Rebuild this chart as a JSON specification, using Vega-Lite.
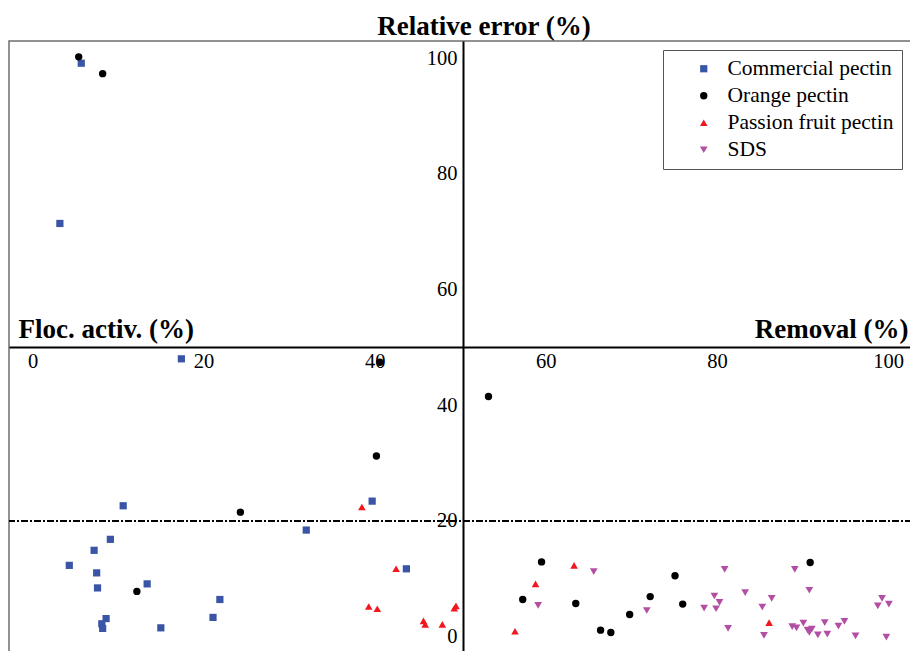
{
  "$schema": "https://vega.github.io/schema/vega-lite/v6.json",
  "width": 903,
  "height": 612,
  "autosize": {"type": "none"},
  "padding": {"left": 9, "top": 41, "right": -2, "bottom": -2},
  "background": "white",
  "config": {"view": {"stroke": "#6e6e6e", "strokeWidth": 1.5}, "font": "Liberation Serif"},
  "title": {"text": "Relative error (%)", "font": "Liberation Serif", "fontSize": 27, "fontWeight": "bold", "color": "black", "anchor": "middle", "dx": 23.5, "dy": 25, "offset": 4, "baseline": "alphabetic"},
  "data": {"values": [
    {"type": "Commercial pectin", "removal": 5.7, "value": 99.1},
    {"type": "Commercial pectin", "removal": 3.2, "value": 71.4},
    {"type": "Commercial pectin", "removal": 17.4, "value": 48.0},
    {"type": "Commercial pectin", "removal": 10.6, "value": 22.6},
    {"type": "Commercial pectin", "removal": 32.0, "value": 18.4},
    {"type": "Commercial pectin", "removal": 9.1, "value": 16.8},
    {"type": "Commercial pectin", "removal": 7.2, "value": 14.9},
    {"type": "Commercial pectin", "removal": 4.3, "value": 12.3},
    {"type": "Commercial pectin", "removal": 7.5, "value": 11.0},
    {"type": "Commercial pectin", "removal": 7.6, "value": 8.4},
    {"type": "Commercial pectin", "removal": 13.4, "value": 9.1},
    {"type": "Commercial pectin", "removal": 21.9, "value": 6.4},
    {"type": "Commercial pectin", "removal": 21.1, "value": 3.3},
    {"type": "Commercial pectin", "removal": 8.6, "value": 3.1},
    {"type": "Commercial pectin", "removal": 8.1, "value": 2.2},
    {"type": "Commercial pectin", "removal": 8.2, "value": 1.4},
    {"type": "Commercial pectin", "removal": 15.0, "value": 1.5},
    {"type": "Commercial pectin", "removal": 39.7, "value": 23.4},
    {"type": "Commercial pectin", "removal": 43.7, "value": 11.7},
    {"type": "Orange pectin", "removal": 5.4, "value": 100.2},
    {"type": "Orange pectin", "removal": 8.2, "value": 97.3},
    {"type": "Orange pectin", "removal": 40.6, "value": 47.4},
    {"type": "Orange pectin", "removal": 53.3, "value": 41.5},
    {"type": "Orange pectin", "removal": 40.2, "value": 31.2},
    {"type": "Orange pectin", "removal": 24.3, "value": 21.5},
    {"type": "Orange pectin", "removal": 12.2, "value": 7.8},
    {"type": "Orange pectin", "removal": 59.5, "value": 12.9},
    {"type": "Orange pectin", "removal": 57.3, "value": 6.4},
    {"type": "Orange pectin", "removal": 63.5, "value": 5.7},
    {"type": "Orange pectin", "removal": 66.4, "value": 1.1},
    {"type": "Orange pectin", "removal": 67.6, "value": 0.7},
    {"type": "Orange pectin", "removal": 69.8, "value": 3.8},
    {"type": "Orange pectin", "removal": 72.2, "value": 6.9},
    {"type": "Orange pectin", "removal": 75.1, "value": 10.5},
    {"type": "Orange pectin", "removal": 76.0, "value": 5.6},
    {"type": "Orange pectin", "removal": 90.9, "value": 12.8},
    {"type": "Passion fruit pectin", "removal": 38.5, "value": 22.4},
    {"type": "Passion fruit pectin", "removal": 42.5, "value": 11.7},
    {"type": "Passion fruit pectin", "removal": 39.3, "value": 5.2},
    {"type": "Passion fruit pectin", "removal": 40.3, "value": 4.8},
    {"type": "Passion fruit pectin", "removal": 49.5, "value": 5.3},
    {"type": "Passion fruit pectin", "removal": 49.3, "value": 4.9},
    {"type": "Passion fruit pectin", "removal": 45.7, "value": 2.7},
    {"type": "Passion fruit pectin", "removal": 45.9, "value": 2.1},
    {"type": "Passion fruit pectin", "removal": 47.9, "value": 2.1},
    {"type": "Passion fruit pectin", "removal": 56.4, "value": 0.9},
    {"type": "Passion fruit pectin", "removal": 58.8, "value": 9.1},
    {"type": "Passion fruit pectin", "removal": 63.3, "value": 12.3},
    {"type": "Passion fruit pectin", "removal": 86.1, "value": 2.4},
    {"type": "SDS", "removal": 65.6, "value": 11.2},
    {"type": "SDS", "removal": 59.1, "value": 5.4},
    {"type": "SDS", "removal": 71.8, "value": 4.5},
    {"type": "SDS", "removal": 80.9, "value": 11.6},
    {"type": "SDS", "removal": 89.1, "value": 11.6},
    {"type": "SDS", "removal": 83.3, "value": 7.6},
    {"type": "SDS", "removal": 90.8, "value": 8.0},
    {"type": "SDS", "removal": 79.7, "value": 7.0},
    {"type": "SDS", "removal": 80.3, "value": 5.9},
    {"type": "SDS", "removal": 78.5, "value": 4.9},
    {"type": "SDS", "removal": 79.9, "value": 4.8},
    {"type": "SDS", "removal": 86.4, "value": 6.6},
    {"type": "SDS", "removal": 85.3, "value": 5.1},
    {"type": "SDS", "removal": 81.3, "value": 1.4},
    {"type": "SDS", "removal": 85.5, "value": 0.2},
    {"type": "SDS", "removal": 88.8, "value": 1.7},
    {"type": "SDS", "removal": 89.3, "value": 1.5},
    {"type": "SDS", "removal": 90.1, "value": 2.3},
    {"type": "SDS", "removal": 90.6, "value": 1.1},
    {"type": "SDS", "removal": 91.1, "value": 1.3},
    {"type": "SDS", "removal": 90.8, "value": 0.7},
    {"type": "SDS", "removal": 91.8, "value": 0.3},
    {"type": "SDS", "removal": 92.6, "value": 2.4},
    {"type": "SDS", "removal": 92.9, "value": 0.4},
    {"type": "SDS", "removal": 94.2, "value": 1.8},
    {"type": "SDS", "removal": 94.9, "value": 2.6},
    {"type": "SDS", "removal": 96.2, "value": 0.1},
    {"type": "SDS", "removal": 99.3, "value": 6.6},
    {"type": "SDS", "removal": 98.8, "value": 5.3},
    {"type": "SDS", "removal": 100.1, "value": 5.6},
    {"type": "SDS", "removal": 99.8, "value": -0.1}
  ]},
  "layer": [
    {
      "mark": {"type": "rule", "color": "black", "strokeWidth": 1.6, "strokeDash": [7, 2, 2, 2]},
      "encoding": {"y": {"datum": 20, "type": "quantitative"}}
    },
    {
      "mark": {"type": "point", "filled": true, "opacity": 1, "strokeWidth": 0},
      "encoding": {
        "x": {
          "field": "removal", "type": "quantitative",
          "scale": {"domain": [-2.747, 102.8], "nice": false, "zero": false},
          "axis": {
            "values": [0, 20, 40, 60, 80, 100], "orient": "bottom", "offset": -306,
            "domainColor": "black", "domainWidth": 2, "ticks": false, "tickSize": 0, "grid": false,
            "labelFont": "Liberation Serif", "labelFontSize": 20.5, "labelColor": "black", "labelPadding": 4,
            "labelFlush": false, "labelOverlap": false,
            "title": "Removal (%)", "titleFont": "Liberation Serif", "titleFontSize": 27, "titleFontWeight": "bold",
            "titleColor": "black", "titleX": 899, "titleY": -9.5, "titleAlign": "right", "titleBaseline": "alphabetic"
          }
        },
        "y": {
          "field": "value", "type": "quantitative",
          "scale": {"domain": [-2.85, 102.94], "nice": false, "zero": false},
          "axis": {
            "values": [0, 20, 40, 60, 80, 100], "orient": "left", "offset": -454,
            "domainColor": "black", "domainWidth": 2, "ticks": false, "tickSize": 0, "grid": false,
            "labelFont": "Liberation Serif", "labelFontSize": 20.5, "labelColor": "black", "labelPadding": 6,
            "labelBaseline": "middle", "labelFlush": false, "labelOverlap": false,
            "title": "Floc. activ. (%)", "titleFont": "Liberation Serif", "titleFontSize": 27, "titleFontWeight": "bold",
            "titleColor": "black", "titleAngle": 0, "titleX": -445, "titleY": 296.5, "titleAlign": "left", "titleBaseline": "alphabetic"
          }
        },
        "color": {
          "field": "type", "type": "nominal",
          "scale": {"domain": ["Commercial pectin", "Orange pectin", "Passion fruit pectin", "SDS"], "range": ["#3a55a5", "#000000", "#f2171f", "#b34fa3"]},
          "legend": {
            "title": null, "orient": "none", "legendX": 654, "legendY": 9, "direction": "vertical",
            "strokeColor": "#555555", "fillColor": "white", "padding": 8, "symbolOffset": 22, "labelOffset": 13,
            "symbolSize": 40, "labelFont": "Liberation Serif", "labelFontSize": 21.5, "labelColor": "black", "rowPadding": 4,
            "labelLimit": 0,
            "labelExpr": "datum.label == 'SDS' ? '\u00a0SDS' : datum.label"
          }
        },
        "shape": {
          "field": "type", "type": "nominal",
          "scale": {"domain": ["Commercial pectin", "Orange pectin", "Passion fruit pectin", "SDS"], "range": ["square", "circle", "triangle-up", "triangle-down"]},
          "legend": {
            "title": null, "orient": "none", "legendX": 654, "legendY": 9, "direction": "vertical",
            "strokeColor": "#555555", "fillColor": "white", "padding": 8, "symbolOffset": 22, "labelOffset": 13,
            "symbolSize": 40, "labelFont": "Liberation Serif", "labelFontSize": 21.5, "labelColor": "black", "rowPadding": 4,
            "labelLimit": 0,
            "labelExpr": "datum.label == 'SDS' ? '\u00a0SDS' : datum.label"
          }
        },
        "size": {
          "field": "type", "type": "nominal",
          "scale": {"domain": ["Commercial pectin", "Orange pectin", "Passion fruit pectin", "SDS"], "range": [52, 60, 115, 115]},
          "legend": null
        }
      }
    }
  ]
}
